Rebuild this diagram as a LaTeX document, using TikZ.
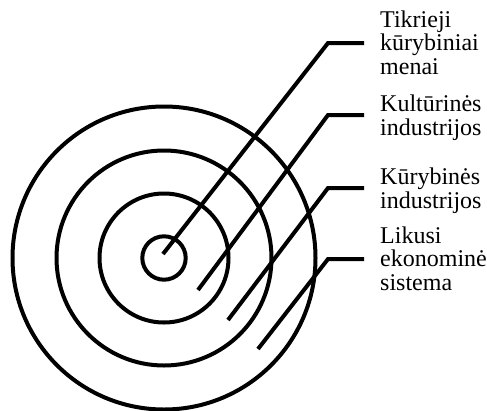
\documentclass[tikz,border=0pt]{standalone}
\usepackage{fontspec}
\setmainfont{Liberation Serif}
\begin{document}
\begin{tikzpicture}[x=1pt,y=-1pt,
  ring/.style={line width=4pt},
  leader/.style={line width=4pt},
  lbl/.style={inner sep=0pt, anchor=base west, align=left,
    font=\fontsize{24}{23.5}\selectfont}]
\useasboundingbox (0,0) rectangle (487,410);
\coordinate (c) at (164,258);
\draw[ring] (c) circle[radius=21.7pt];
\draw[ring] (c) circle[radius=64.5pt];
\draw[ring] (c) circle[radius=107.5pt];
\draw[ring] (c) circle[radius=151.5pt];
% labels (anchored at the baseline of the last line)
\node[lbl] (t1) at (380,74) {Tikrieji\\kūrybiniai\\menai};
\node[lbl] (t2) at (380,135) {Kultūrinės\\industrijos};
\node[lbl] (t3) at (380,208) {Kūrybinės\\industrijos};
\node[lbl] (t4) at (380,290) {Likusi\\ekonominė\\sistema};
% leader coordinates
\coordinate (s1) at (163,254);
\coordinate (e1) at (328,43);
\coordinate (h1) at (364,43);
\coordinate (s2) at (198,290);
\coordinate (e2) at (328,115);
\coordinate (h2) at (364,115);
\coordinate (s3) at (228,320);
\coordinate (e3) at (328,188);
\coordinate (h3) at (364,188);
\coordinate (s4) at (258,349);
\coordinate (e4) at (328,259);
\coordinate (h4) at (364,259);
\draw[leader] (s1) -- (e1) -- (h1);
\draw[leader] (s2) -- (e2) -- (h2);
\draw[leader] (s3) -- (e3) -- (h3);
\draw[leader] (s4) -- (e4) -- (h4);
\end{tikzpicture}
\end{document}
